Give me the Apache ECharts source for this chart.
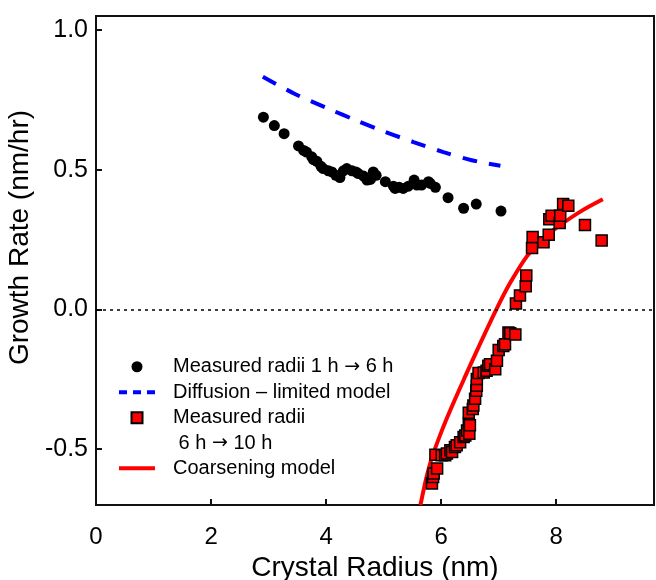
<!DOCTYPE html>
<html>
<head>
<meta charset="utf-8">
<script src="https://cdn.jsdelivr.net/npm/echarts@6/dist/echarts.min.js"></script>
<style>
  html, body { margin: 0; padding: 0; background: #fff; }
  #chart { width: 656px; height: 580px; }
</style>
</head>
<body>
<div id="chart"></div>
<script>
// Tick positions on both axes
const xTicks = [0, 2, 4, 6, 8];
const yTicks = [-0.5, 0, 0.5, 1.0];

// Measured radii, 1 h -> 6 h: [radius (nm), growth rate (nm/hr)]
const measuredEarly = [
  [2.91, 0.688], [3.10, 0.658], [3.27, 0.629], [3.52, 0.585], [3.61, 0.569],
  [3.66, 0.563], [3.75, 0.546], [3.78, 0.536], [3.84, 0.530], [3.91, 0.512],
  [3.95, 0.504], [4.04, 0.496], [4.10, 0.492], [4.17, 0.480], [4.24, 0.472],
  [4.30, 0.496], [4.36, 0.504], [4.45, 0.496], [4.52, 0.492], [4.56, 0.486],
  [4.65, 0.477], [4.71, 0.463], [4.77, 0.465], [4.82, 0.492], [4.87, 0.480],
  [5.03, 0.457], [5.17, 0.441], [5.20, 0.433], [5.27, 0.437], [5.34, 0.433],
  [5.43, 0.441], [5.53, 0.463], [5.58, 0.445], [5.66, 0.445], [5.78, 0.457],
  [5.81, 0.451], [5.90, 0.437], [6.12, 0.400], [6.39, 0.362], [6.61, 0.377],
  [7.04, 0.352]
];

// Diffusion-limited model curve
const diffusionModel = [
  [2.90, 0.833], [3.45, 0.772], [4.04, 0.718], [4.53, 0.676], [5.03, 0.635],
  [5.52, 0.599], [6.04, 0.563], [6.53, 0.534], [7.03, 0.514]
];

// Measured radii, 6 h -> 10 h
const measuredLate = [
  [5.84, -0.623], [5.86, -0.600], [5.87, -0.587], [5.93, -0.569], [5.90, -0.520],
  [6.01, -0.522], [6.07, -0.522], [6.10, -0.516], [6.16, -0.504], [6.19, -0.510],
  [6.24, -0.492], [6.27, -0.486], [6.33, -0.475], [6.39, -0.457], [6.42, -0.451],
  [6.45, -0.433], [6.49, -0.445], [6.48, -0.409], [6.50, -0.415], [6.48, -0.370],
  [6.55, -0.356], [6.56, -0.344], [6.59, -0.320], [6.61, -0.291], [6.62, -0.273],
  [6.62, -0.249], [6.65, -0.228], [6.74, -0.226], [6.79, -0.220], [6.82, -0.202],
  [6.85, -0.196], [6.94, -0.214], [6.97, -0.184], [7.00, -0.145], [7.08, -0.131],
  [7.11, -0.125], [7.17, -0.083], [7.20, -0.085], [7.29, -0.090], [7.30, 0.021],
  [7.37, 0.050], [7.47, 0.083], [7.48, 0.121], [7.58, 0.220], [7.59, 0.259],
  [7.78, 0.240], [7.87, 0.267], [7.88, 0.323], [7.92, 0.335], [8.06, 0.309],
  [8.07, 0.335], [8.12, 0.377], [8.21, 0.371], [8.50, 0.302], [8.79, 0.247]
];

// Coarsening model curve
const coarseningModel = [
  [5.64, -0.700], [5.74, -0.605], [5.84, -0.530], [6.00, -0.440], [6.16, -0.360],
  [6.40, -0.248], [6.65, -0.135], [6.96, 0.000], [7.20, 0.095], [7.49, 0.190],
  [7.75, 0.250], [8.01, 0.293], [8.42, 0.350], [8.81, 0.394]
];

const NAME_EARLY = 'Measured radii 1 h \u2192 6 h';
const NAME_DIFF = 'Diffusion \u2013 limited model';
const NAME_LATE = 'Measured radii';
const NAME_LATE_2 = ' 6 h \u2192 10 h';
const NAME_COARSE = 'Coarsening model';

const FONT = "'Liberation Sans', Arial, sans-serif";
const ARROW_FONT = "'DejaVu Sans', sans-serif";

// Render arrows with a font whose arrow glyph is full width
const withArrow = s => s.replace('\u2192', '{arr|\u2192}');
const arrowRich = { arr: { fontFamily: ARROW_FONT, fontSize: 19, color: '#000', lineHeight: 25.5 } };

const legendText = {
  fontFamily: FONT, fontSize: 20, color: '#000',
  lineHeight: 25.5, padding: [0, 0, 0, 13], rich: arrowRich
};

// Legend glyphs: three dashes, a solid bar, a square
const ICON_DASH = 'path://M0,0h8v4h-8z M14,0h8v4h-8z M28,0h8v4h-8z';
const ICON_BAR = 'path://M0,0h36v4h-36z';
const ICON_SQUARE = 'path://M0,0h10v10h-10z';

const chart = echarts.init(document.getElementById('chart'));

chart.setOption({
  animation: false,
  grid: {
    left: 96, right: 2, top: 16, bottom: 75,
    outerBoundsMode: 'none', containLabel: false,
    show: true, borderColor: '#111', borderWidth: 2
  },
  xAxis: {
    type: 'value', min: 0, max: 9.7,
    name: 'Crystal Radius (nm)', nameLocation: 'middle', nameGap: 48,
    nameTextStyle: { fontFamily: FONT, fontSize: 28, color: '#000' },
    axisLine: { show: false, onZero: false },
    axisTick: { show: true, inside: true, length: 6, customValues: xTicks,
      lineStyle: { color: '#111', width: 2 } },
    axisLabel: { fontFamily: FONT, fontSize: 24, color: '#000', margin: 20,
      customValues: xTicks },
    splitLine: { show: false }
  },
  yAxis: {
    type: 'value', min: -0.7, max: 1.05,
    name: 'Growth Rate (nm/hr)', nameLocation: 'middle', nameGap: 61,
    nameTextStyle: { fontFamily: FONT, fontSize: 28, color: '#000', padding: [0, 0, 0, 46] },
    axisLine: { show: false, onZero: false },
    axisTick: { show: true, inside: true, length: 6, customValues: yTicks,
      lineStyle: { color: '#111', width: 2 } },
    axisLabel: { fontFamily: FONT, fontSize: 25, color: '#000', margin: 8,
      customValues: yTicks, formatter: v => v.toFixed(1) },
    splitLine: { show: false }
  },
  legend: [
    {
      left: 119, top: 354, orient: 'vertical', padding: 0, itemGap: 0,
      itemWidth: 36, itemHeight: 11, selectedMode: false,
      textStyle: legendText, formatter: withArrow,
      data: [
        { name: NAME_EARLY, icon: 'circle' },
        { name: NAME_DIFF, icon: ICON_DASH },
        { name: NAME_LATE, icon: ICON_SQUARE }
      ]
    },
    {
      left: 119, top: 455.5, orient: 'vertical', padding: 0, itemGap: 0,
      itemWidth: 36, itemHeight: 11, selectedMode: false,
      textStyle: legendText, formatter: withArrow,
      data: [{ name: NAME_COARSE, icon: ICON_BAR }]
    }
  ],
  graphic: [{
    type: 'text', left: 173, top: 443 - 12.75,
    style: {
      text: withArrow(NAME_LATE_2), fontFamily: FONT, fontSize: 20, fill: '#000',
      lineHeight: 25.5, rich: arrowRich
    }
  }],
  series: [
    {
      name: NAME_DIFF, type: 'line', data: diffusionModel, smooth: 0.3,
      showSymbol: false, symbol: 'none', z: 2,
      lineStyle: { color: '#0000ff', width: 4, type: [15, 12] },
      itemStyle: { color: '#0000ff' }
    },
    {
      name: NAME_COARSE, type: 'line', data: coarseningModel, smooth: 0.3,
      showSymbol: false, symbol: 'none', z: 2,
      lineStyle: { color: '#ff0000', width: 4 },
      itemStyle: { color: '#ff0000' }
    },
    {
      name: NAME_EARLY, type: 'scatter', data: measuredEarly, symbol: 'circle',
      symbolSize: 11, z: 3,
      itemStyle: { color: '#000', opacity: 1 },
      markLine: {
        silent: true, symbol: ['none', 'none'], label: { show: false },
        lineStyle: { color: '#000', type: [3, 4], width: 1.5 },
        data: [{ yAxis: 0 }]
      }
    },
    {
      name: NAME_LATE, type: 'scatter', data: measuredLate, symbol: 'rect',
      symbolSize: 11, z: 4,
      itemStyle: { color: '#ff0000', borderColor: '#000', borderWidth: 1.5, opacity: 1 }
    }
  ]
});
</script>
</body>
</html>
